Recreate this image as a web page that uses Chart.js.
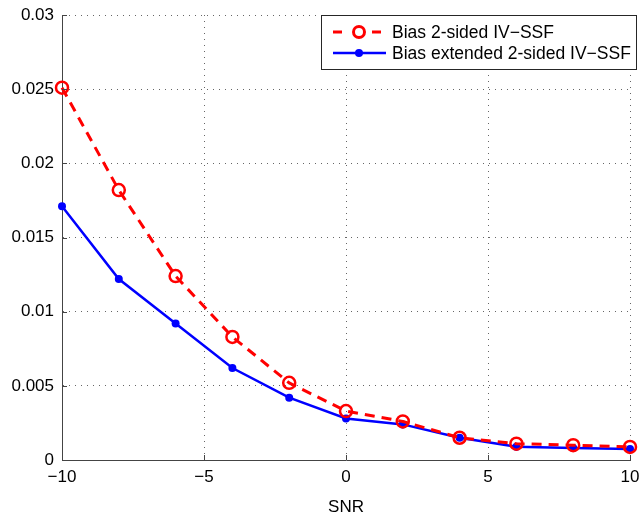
<!DOCTYPE html>
<html>
<head>
<meta charset="utf-8">
<script src="https://cdn.jsdelivr.net/npm/chart.js@4"></script>
<style>
  html, body { margin: 0; padding: 0; background: #fff; }
  #wrap { width: 641px; height: 514px; position: relative; }
</style>
</head>
<body>
<div id="wrap"><canvas id="chart"></canvas></div>
<script>
var snr          = [-10, -8, -6, -4, -2, 0, 2, 4, 6, 8, 10];
var biasTwoSided = [0.0251, 0.0182, 0.0124, 0.0083, 0.0052, 0.0033, 0.0026, 0.0015, 0.0011, 0.0010, 0.00088];
var biasExtended = [0.0171, 0.0122, 0.0092, 0.0062, 0.0042, 0.0028, 0.0024, 0.0015, 0.0009, 0.00081, 0.00074];
var seriesNames  = ['Bias 2-sided IV\u2212SSF', 'Bias extended 2-sided IV\u2212SSF'];
var xLabel       = 'SNR';

var FONT = '"Liberation Sans", Arial, sans-serif';
var AXIS = '#444';

function pts(ys) {
    return snr.map(function(x, i) { return { x: x, y: ys[i] }; });
}

function fmtTick(v) {
    var s = String(Math.round(v * 10000) / 10000);
    return s.replace('-', '\u2212');
}

// ─── Legend box drawn MATLAB-style ────────────────────

var legendPlugin = {
    id: 'matlabLegend',
    afterDraw: function(chart) {
        var ctx = chart.ctx;
        var x0 = 321, y0 = 15, w = 315, h = 54;
        ctx.save();
        ctx.fillStyle = '#fff';
        ctx.fillRect(x0, y0, w, h);
        ctx.strokeStyle = '#262626';
        ctx.lineWidth = 1;
        ctx.strokeRect(x0 + 0.5, y0 + 0.5, w, h);

        // red dashed sample
        var r1 = 32;
        ctx.strokeStyle = '#ff0000';
        ctx.lineWidth = 3;
        ctx.beginPath(); ctx.moveTo(333, r1); ctx.lineTo(342, r1); ctx.stroke();
        ctx.beginPath(); ctx.moveTo(372, r1); ctx.lineTo(381, r1); ctx.stroke();
        ctx.beginPath(); ctx.arc(359, r1, 5.5, 0, Math.PI * 2);
        ctx.fillStyle = '#fff'; ctx.fill(); ctx.stroke();

        // blue solid sample
        var r2 = 53;
        ctx.strokeStyle = '#0000ff';
        ctx.lineWidth = 2.5;
        ctx.beginPath(); ctx.moveTo(333, r2); ctx.lineTo(386, r2); ctx.stroke();
        ctx.beginPath(); ctx.arc(359, r2, 4, 0, Math.PI * 2);
        ctx.fillStyle = '#0000ff'; ctx.fill();

        ctx.fillStyle = '#000';
        ctx.font = '17.5px ' + FONT;
        ctx.textBaseline = 'middle';
        ctx.fillText(seriesNames[0], 392, r1 + 1);
        ctx.fillText(seriesNames[1], 392, r2 + 1);
        ctx.restore();
    }
};

// small inward ticks like MATLAB
var tickPlugin = {
    id: 'innerTicks',
    afterDatasetsDraw: function(chart) {
        var ctx = chart.ctx, a = chart.chartArea;
        var xs = chart.scales.x, ys = chart.scales.y;
        ctx.save();
        ctx.strokeStyle = AXIS;
        ctx.lineWidth = 1;
        ctx.beginPath();
        xs.ticks.forEach(function(t) {
            var px = Math.round(xs.getPixelForValue(t.value)) + 0.5;
            ctx.moveTo(px, a.bottom); ctx.lineTo(px, a.bottom - 5);
        });
        ys.ticks.forEach(function(t) {
            var py = Math.round(ys.getPixelForValue(t.value)) + 0.5;
            ctx.moveTo(a.left, py); ctx.lineTo(a.left + 5, py);
        });
        ctx.stroke();
        ctx.restore();
    }
};

var ctx = document.getElementById('chart').getContext('2d');
new Chart(ctx, {
    type: 'line',
    data: {
        datasets: [{
            label: seriesNames[0],
            data: pts(biasTwoSided),
            borderColor: '#ff0000',
            borderWidth: 3,
            borderDash: [10, 7],
            pointStyle: 'circle',
            pointRadius: 6,
            pointBorderWidth: 2.5,
            pointBorderColor: '#ff0000',
            pointBackgroundColor: 'rgba(255,255,255,0)',
            tension: 0
        }, {
            label: seriesNames[1],
            data: pts(biasExtended),
            borderColor: '#0000ff',
            borderWidth: 2.5,
            pointRadius: 4,
            pointBorderWidth: 0,
            pointBackgroundColor: '#0000ff',
            tension: 0
        }]
    },
    options: {
        responsive: true,
        maintainAspectRatio: false,
        animation: false,
        layout: { padding: { top: 15, right: 11, left: 0, bottom: 0 } },
        plugins: { legend: { display: false }, tooltip: { enabled: false } },
        clip: false,
        scales: {
            x: {
                type: 'linear',
                min: -10, max: 10,
                ticks: {
                    stepSize: 5, color: '#000', padding: 7,
                    font: { family: FONT, size: 17 },
                    callback: fmtTick
                },
                grid: { color: '#666', lineWidth: 1, tickLength: 0, drawTicks: false },
                border: { display: true, color: AXIS, width: 1, dash: [1, 5] },
                title: { display: true, text: xLabel, color: '#000', font: { family: FONT, size: 17 }, padding: { top: 4, bottom: -4 } },
                afterFit: function(s) { s.height = 54; s.paddingLeft = 0; s.paddingRight = 0; }
            },
            y: {
                min: 0, max: 0.03,
                ticks: {
                    stepSize: 0.005, color: '#000', padding: 8,
                    font: { family: FONT, size: 17 },
                    callback: fmtTick
                },
                grid: { color: '#666', lineWidth: 1, tickLength: 0, drawTicks: false },
                border: { display: true, color: AXIS, width: 1, dash: [1, 5] },
                afterFit: function(s) { s.width = 62; s.paddingTop = 0; s.paddingBottom = 0; }
            }
        }
    },
    plugins: [tickPlugin, legendPlugin]
});
</script>
</body>
</html>
